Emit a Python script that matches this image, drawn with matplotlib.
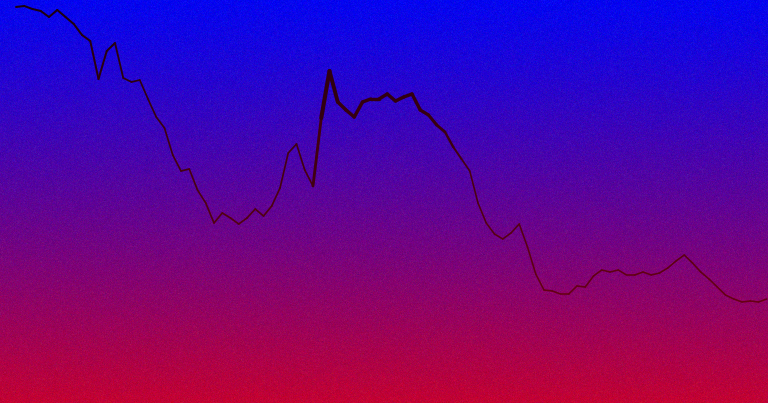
import numpy as np
import matplotlib
matplotlib.use("Agg")
import matplotlib.pyplot as plt
from matplotlib.collections import LineCollection

# series values (height above bottom edge, arbitrary units)
y_px = [7, 6, 9, 11, 17, 10, 17, 24, 35, 41, 79, 51, 43, 78, 82, 80, 99, 117, 128, 155,
        171, 169, 190, 203, 223, 213, 218, 224, 218, 209, 216, 206, 188, 153, 144, 170, 186, 118, 71, 102,
        110, 117, 102, 99, 99, 94, 101, 97, 94, 110, 115, 125, 132, 147, 159, 171, 203, 223, 234, 239,
        233, 224, 247, 274, 290, 291, 294, 294, 286, 287, 276, 270, 272, 270, 275, 275, 272, 275, 273, 268,
        261, 255, 263, 272, 279, 287, 295, 299, 302, 301, 302, 299]
values = [403 - v for v in y_px]
# per-point weight controlling stroke width
weights = [2.0]*13 + [1.7]*24 + [4.0, 4.2, 3.6, 3.4, 3.4, 3.4, 3.4, 3.4, 3.4, 3.4, 3.4, 3.4, 3.4, 3.2, 3.0, 2.6, 2.2, 1.8] + [1.6]*(92-55)
weights = weights[:len(values)]

W, H = 768, 403
fig = plt.figure(figsize=(W/100, H/100), dpi=100)
ax = fig.add_axes([0, 0, 1, 1])
ax.set_axis_off()

# background gradient blue -> red with fine grain
t = np.linspace(0, 1, H)[:, None] * np.ones((1, W))
t = t ** 1.1
top = np.array([5, 5, 240]) / 255.0
bot = np.array([195, 0, 50]) / 255.0
img = top[None, None, :] * (1 - t[..., None]) + bot[None, None, :] * t[..., None]
rng = np.random.default_rng(3)
img = np.clip(img + rng.normal(0, 0.025, img.shape), 0, 1)

n = len(values)
x0 = -16 / 8.25
x1 = (W - 16) / 8.25
ax.imshow(img, extent=[x0, x1, 0, H], aspect='auto', zorder=0, interpolation='nearest')

x = np.arange(n)
pts = np.column_stack([x, values])
segs = np.stack([pts[:-1], pts[1:]], axis=1)
mid_h = (np.array(values[:-1]) + np.array(values[1:])) / 2 / H
c_top = np.array([25, 0, 15]) / 255.0
c_bot = np.array([130, 0, 20]) / 255.0
cols = [tuple(c_top * f + c_bot * (1 - f)) for f in mid_h]
wid = [(weights[i] + weights[i+1]) / 2 * 0.72 for i in range(n - 1)]
lc = LineCollection(segs, colors=cols, linewidths=wid, capstyle='round', joinstyle='round', zorder=2)
ax.add_collection(lc)
ax.set_xlim(x0, x1)
ax.set_ylim(0, H)
fig.savefig("out.png", dpi=100)
